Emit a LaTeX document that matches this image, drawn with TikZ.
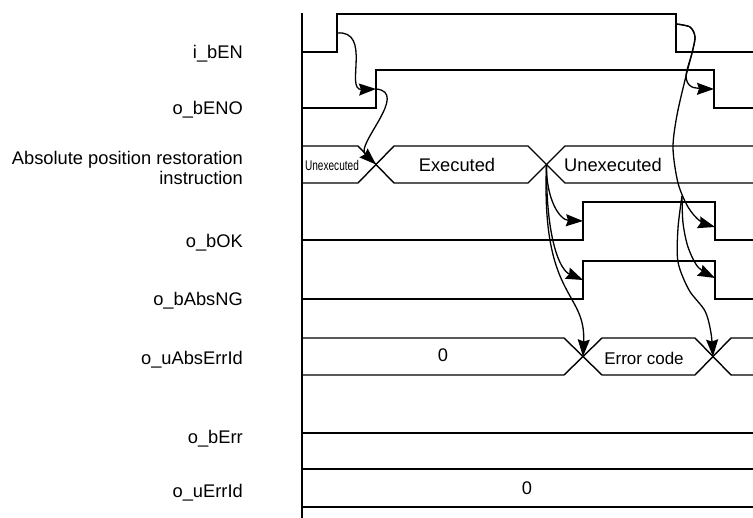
\documentclass[tikz,border=0pt]{standalone}
\usepackage{fontspec}
\setmainfont{Liberation Sans}
\usepackage{graphicx}
\usetikzlibrary{arrows.meta}
\begin{document}
\begin{tikzpicture}[x=1pt,y=-1pt,
  sig/.style={line width=1.4pt},
  arr/.style={line width=1.3pt, -{Stealth[length=17pt,width=12pt,inset=2pt]}},
  lbl/.style={anchor=base east, inner sep=0pt, font=\fontsize{18.3}{20}\selectfont, align=right},
  val/.style={anchor=base, inner sep=0pt, font=\fontsize{18.3}{20}\selectfont}]
\useasboundingbox (0,0) rectangle (753,518);

% labels
\node[lbl] (lEN)   at (243,58.3)  {i\_bEN};
\node[lbl] (lENO)  at (243,114.3) {o\_bENO};
\node[lbl] (lInst) at (243,184.3) {Absolute position restoration\\instruction};
\node[lbl] (lOK)   at (243,247.7) {o\_bOK};
\node[lbl] (lNG)   at (243,306)   {o\_bAbsNG};
\node[lbl] (lAE)   at (243,364.3) {o\_uAbsErrId};
\node[lbl] (lErr)  at (243,444)   {o\_bErr};
\node[lbl] (lEI)   at (243,497.3) {o\_uErrId};

% time axis
\draw[sig] (302,13) -- (302,518);

% i_bEN
\draw[sig] (302,52) -- (337,52) -- (337,14) -- (676,14) -- (676,52) -- (753,52);
% o_bENO
\draw[sig] (302,108) -- (376,108) -- (376,70) -- (714,70) -- (714,108) -- (753,108);
% instruction bus
\draw[sig] (302,146) -- (358,146) -- (394,183) -- (528,183) -- (565,146) -- (753,146);
\draw[sig] (302,183) -- (358,183) -- (394,146) -- (528,146) -- (565,183) -- (753,183);
% o_bOK
\draw[sig] (302,240) -- (583,240) -- (583,202) -- (715,202) -- (715,240) -- (753,240);
% o_bAbsNG
\draw[sig] (302,299) -- (583,299) -- (583,261) -- (715,261) -- (715,299) -- (753,299);
% o_uAbsErrId bus
\draw[sig] (302,338) -- (564,338) -- (602,375) -- (695,375) -- (731,338) -- (753,338);
\draw[sig] (302,375) -- (564,375) -- (602,338) -- (695,338) -- (731,375) -- (753,375);
% o_bErr
\draw[sig] (302,433) -- (753,433);
% o_uErrId bus
\draw[sig] (302,469) -- (753,469);
\draw[sig] (302,507) -- (753,507);

% bus texts
\node[val, font=\fontsize{14}{16}\selectfont] (tU1) at (332,171) {\scalebox{0.72}[1]{Unexecuted}};
\node[val] (tEx)  at (457,171.7) {Executed};
\node[val] (tU2)  at (613,171.7) {Unexecuted};
\node[val] (t0a)  at (443,362)   {0};
\node[val, font=\fontsize{17}{19}\selectfont] (tErr) at (644,364.3) {Error code};
\node[val] (t0b)  at (527,495)   {0};

% connector end points
\coordinate (enR)  at (337,33);
\coordinate (enoR) at (376,89);
\coordinate (x1)   at (376,164.5);
\coordinate (x2)   at (546.5,164.5);
\coordinate (okR)  at (583,221);
\coordinate (ngR)  at (583,280);
\coordinate (ae1)  at (583,356.5);
\coordinate (enF)  at (676,24);
\coordinate (enoF) at (714,89);
\coordinate (okF)  at (715,227);
\coordinate (ngF)  at (715,278);
\coordinate (ae2)  at (713,356.5);
\coordinate (br)   at (682,196);

% connectors, left
\draw[arr] (enR) .. controls (372,30) and (345,90) .. (enoR);
\draw[arr] (enoR) .. controls (410,92) and (355,145) .. (x1);
\draw[arr] (x2) .. controls (546,200) and (560,220) .. (okR);
\draw[arr] (x2) .. controls (546,240) and (560,270) .. (ngR);
\draw[arr] (x2) .. controls (541,300) and (586,290) .. (ae1);

% connectors, right
\draw[arr] plot[smooth] coordinates {(enF) (690,27) (695,37) (692,53) (686,76) (692,87) (enoF)};
\draw[arr] plot[smooth] coordinates {(enF) (690,27) (695,37) (692,53) (686,76) (677,115) (673,148) (678,183) (688,207) (700,221) (okF)};
\draw[arr] plot[smooth] coordinates {(br) (683,223) (688,247) (698,267) (ngF)};
\draw[arr] plot[smooth] coordinates {(br) (678,228) (678,262) (689,290) (705,311) (711,333) (ae2)};
\end{tikzpicture}
\end{document}
